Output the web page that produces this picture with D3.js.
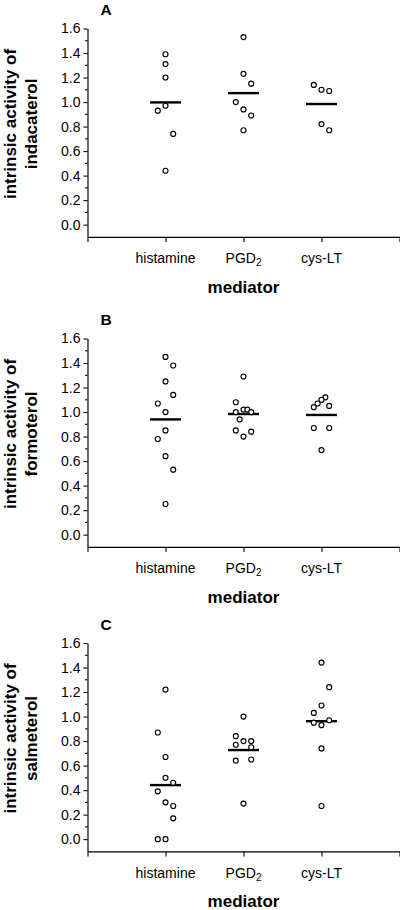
<!DOCTYPE html>
<html><head><meta charset="utf-8">
<script src="https://cdn.jsdelivr.net/npm/d3@7"></script>
<style>
body{margin:0;background:#fff}
svg{display:block}
text{font-family:"Liberation Sans",Arial,Helvetica,sans-serif;fill:#000}
</style>
</head><body>
<svg id="chart" width="400" height="910"></svg>
<script>
// ---- data ----
const categories = ["histamine", "PGD2", "cys-LT"];
const panelLabels = ["A", "B", "C"];
const drugs = ["indacaterol", "formoterol", "salmeterol"];
const yTickValues = [0.0, 0.2, 0.4, 0.6, 0.8, 1.0, 1.2, 1.4, 1.6];
const yMinorTicks = [0.1, 0.3, 0.5, 0.7, 0.9, 1.1, 1.3, 1.5];

// intrinsic activity values per mediator (histamine, PGD2, cys-LT)
const indacaterolValues = [
  [1.39, 1.31, 1.20, 0.97, 0.93, 0.74, 0.44],
  [1.53, 1.23, 1.15, 1.00, 0.94, 0.89, 0.77],
  [1.14, 1.10, 1.09, 0.82, 0.77]
];
const formoterolValues = [
  [1.45, 1.38, 1.25, 1.14, 1.07, 1.00, 0.85, 0.78, 0.64, 0.53, 0.25],
  [1.29, 1.08, 1.02, 1.02, 1.00, 1.00, 0.94, 0.85, 0.84, 0.80],
  [1.12, 1.10, 1.07, 1.05, 1.04, 0.87, 0.87, 0.69]
];
const salmeterolValues = [
  [1.22, 0.87, 0.67, 0.50, 0.46, 0.39, 0.30, 0.27, 0.17, 0.00, 0.00],
  [1.00, 0.84, 0.80, 0.80, 0.77, 0.75, 0.65, 0.64, 0.29],
  [1.44, 1.24, 1.09, 1.03, 0.97, 0.95, 0.93, 0.74, 0.27]
];
// scatter column (jitter slot) of each point, as in the original dot plot
const indacaterolSlots = [[0,0,0,0,-1,1,0],[0,0,1,-1,0,1,0],[-1,0,1,0,1]];
const formoterolSlots = [[0,1,0,1,-1,0,0,-1,0,1,0],[0,-1,0,0.5,-1,1,-0.5,-1,1,0],[0.5,0,-0.5,1,-1,-1,1,0]];
const salmeterolSlots = [[0,-1,0,0,1,-1,0,1,1,-1,0],[0,-1,0,1,-1,1,1,-1,0],[0,1,0,-1,1,-1,0,0,0]];

const allValues = [indacaterolValues, formoterolValues, salmeterolValues];
const allSlots = [indacaterolSlots, formoterolSlots, salmeterolSlots];

// ---- layout ----
const svg = d3.select("#chart");
const panelTops = [28.5, 338.5, 643];
const plotH = 208.4;          // from 1.6 down to -0.1
const axisX = 87.5;
const x = d3.scaleLinear().domain([0, 4]).range([axisX, 399.5]);
const slotW = 7.7;

panelTops.forEach((top, p) => {
  const g = svg.append("g");
  const y = d3.scaleLinear().domain([-0.1, 1.6]).range([top + plotH, top]);
  const baseY = y(-0.1);

  // y axis
  const ya = g.append("g").attr("transform", `translate(${axisX},0)`)
    .call(d3.axisLeft(y).tickValues(yTickValues).tickFormat(d3.format(".1f"))
      .tickSize(4).tickSizeOuter(0).tickPadding(3));
  ya.select(".domain").attr("stroke", "#000").attr("stroke-width", 1.2);
  ya.selectAll(".tick line").attr("stroke", "#000").attr("stroke-width", 1.1);
  ya.selectAll(".tick text").attr("font-size", 14).attr("font-family", '"Liberation Sans",Arial,sans-serif').attr("fill", "#000");
  ya.selectAll(".minor").data(yMinorTicks).enter().append("line")
    .attr("class", "minor")
    .attr("x1", -2.5).attr("x2", 0)
    .attr("y1", d => y(d)).attr("y2", d => y(d))
    .attr("stroke", "#000").attr("stroke-width", 1.1);

  // x axis
  const xa = g.append("g").attr("transform", `translate(0,${baseY})`)
    .call(d3.axisBottom(x).tickValues([0, 1, 2, 3, 4]).tickFormat("")
      .tickSize(5).tickSizeOuter(0));
  xa.select(".domain").attr("stroke", "#000").attr("stroke-width", 1.2);
  xa.selectAll(".tick line").attr("stroke", "#000").attr("stroke-width", 1.1);

  // category labels
  categories.forEach((c, i) => {
    const t = g.append("text").attr("x", x(i + 1)).attr("y", baseY + 26.5)
      .attr("text-anchor", "middle").attr("font-size", 14);
    if (c === "PGD2") {
      t.append("tspan").text("PGD");
      t.append("tspan").attr("font-size", 10).attr("dy", 3).text("2");
    } else {
      t.text(c);
    }
  });

  // x title
  g.append("text").attr("x", (x(0) + x(4)) / 2).attr("y", baseY + 56)
    .attr("text-anchor", "middle").attr("font-size", 17).attr("font-weight", "bold")
    .text("mediator");

  // y title (two lines)
  const yc = top + 95.5;
  [["intrinsic activity of", 16], [drugs[p], 37]].forEach(([s, bx]) => {
    g.append("text").attr("transform", `translate(${bx},${yc}) rotate(-90)`)
      .attr("text-anchor", "middle").attr("font-size", 17).attr("font-weight", "bold")
      .text(s);
  });

  // panel letter
  g.append("text").attr("x", 100.5).attr("y", top - 13.5)
    .attr("font-size", 15.5).attr("font-weight", "bold").text(panelLabels[p]);

  // data
  allValues[p].forEach((vals, ci) => {
    const cx = x(ci + 1);
    const m = d3.mean(vals);
    g.append("line").attr("x1", cx - 15.5).attr("x2", cx + 15.5)
      .attr("y1", y(m)).attr("y2", y(m))
      .attr("stroke", "#000").attr("stroke-width", 2.4);
    g.selectAll(null).data(vals.map((v, k) => ({ v, s: allSlots[p][ci][k] })))
      .enter().append("circle")
      .attr("cx", d => cx + d.s * slotW)
      .attr("cy", d => y(d.v))
      .attr("r", 2.5)
      .attr("fill", "#fff").attr("stroke", "#000").attr("stroke-width", 1.15);
  });
});
</script>
</body></html>
